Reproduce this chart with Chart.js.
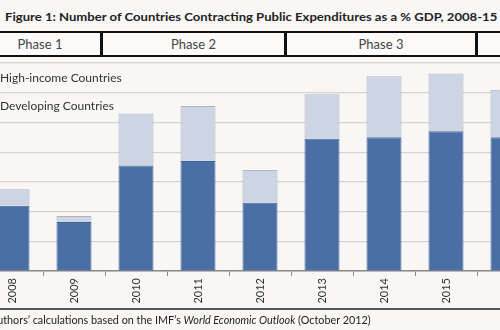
<!DOCTYPE html>
<html>
<head>
<meta charset="utf-8">
<script src="https://cdn.jsdelivr.net/npm/chart.js@4.4.0/dist/chart.umd.min.js"></script>
<style>
  body { margin: 0; width: 500px; height: 330px; overflow: hidden; background: #f8f7f5; position: relative; font-family: Lato, "Open Sans", sans-serif; color: #222; }
  #title { position: absolute; left: 5px; top: 9px; font-weight: bold; font-size: 12px; white-space: nowrap; transform-origin: 0 0; }
  .phase { position: absolute; top: 31px; height: 22px; border-top: 2px solid #111; border-bottom: 2px solid #111; font-size: 13px; color: #444; text-align: center; line-height: 22px; background: #fbfaf9; }
  .sep { position: absolute; top: 31px; height: 26px; width: 3px; background: #111; }
  #myChart { position: absolute; left: -80px; top: 0; }
  #rule { position: absolute; left: 0; width: 500px; top: 308px; border-top: 2px solid #555; }
  #source { position: absolute; right: 129px; top: 312px; font-size: 12px; white-space: nowrap; color: #222; transform: scaleX(0.9); transform-origin: 100% 0; }
</style>
</head>
<body>
<div id="title">Figure 1: Number of Countries Contracting Public Expenditures as a % GDP, 2008-15</div>

<div class="phase" style="left:-20px; width:120px;">Phase 1</div>
<div class="phase" style="left:103px; width:181px;">Phase 2</div>
<div class="phase" style="left:287px; width:188px;">Phase 3</div>
<div class="phase" style="left:478px; width:120px;">Phase 4</div>
<div class="sep" style="left:100px;"></div>
<div class="sep" style="left:284px;"></div>
<div class="sep" style="left:475px;"></div>

<canvas id="myChart" width="627" height="330"></canvas>

<div id="rule"></div>
<div id="source">Source: Authors’ calculations based on the IMF’s <i>World Economic Outlook</i> (October 2012)</div>

<script>
// Countries cutting spending (% of GDP), split by income group
const years = ['2008', '2009', '2010', '2011', '2012', '2013', '2014', '2015', '2016'];
const developing = [44, 33, 71, 74, 46, 89, 90, 94, 90];
const highIncome = [11, 4, 35, 37, 22, 30, 41, 39, 32];
const yMax = 140;
const yStep = 20;

const FONT = 'Lato, "Open Sans", sans-serif';

// squeeze the title onto one line across the page
const title = document.getElementById('title');
title.style.transform = `scaleX(${492 / title.scrollWidth})`;

// legend drawn inside the plot, top left
const insideLegend = {
    id: 'insideLegend',
    afterDraw(chart) {
        const ctx = chart.ctx;
        const area = chart.chartArea;
        ctx.save();
        ctx.font = `12px ${FONT}`;
        ctx.textBaseline = 'middle';
        [1, 0].forEach((di, row) => {
            const ds = chart.data.datasets[di];
            const y = area.top + 15 + row * 28;
            ctx.fillStyle = ds.backgroundColor;
            ctx.fillRect(area.left + 4, y - 5, 10, 10);
            ctx.fillStyle = '#333';
            ctx.fillText(ds.label, area.left + 19, y);
        });
        ctx.restore();
    }
};

const ctx = document.getElementById('myChart').getContext('2d');
new Chart(ctx, {
    type: 'bar',
    data: {
        labels: years,
        datasets: [{
            label: 'Developing Countries',
            data: developing,
            backgroundColor: '#4a6fa5',
            borderColor: '#41649a',
            borderWidth: 1
        }, {
            label: 'High-income Countries',
            data: highIncome,
            backgroundColor: '#cdd4e3',
            borderColor: '#aeb3bd',
            borderWidth: 1
        }]
    },
    options: {
        responsive: false,
        devicePixelRatio: 1,
        animation: false,
        layout: { padding: { top: 63, bottom: 22, left: 0, right: 8 } },
        datasets: { bar: { barPercentage: 0.565, categoryPercentage: 1 } },
        plugins: { legend: { display: false }, tooltip: { enabled: false } },
        scales: {
            x: {
                stacked: true,
                grid: { offset: true, drawOnChartArea: false, drawTicks: true, tickLength: 5, color: '#8a8a8a' },
                border: { color: '#8a8a8a', width: 1.5 },
                ticks: { minRotation: 90, maxRotation: 90, padding: 2, color: '#333', font: { family: FONT, size: 11 } },
                afterFit: scale => { scale.height = 37; }
            },
            y: {
                stacked: true,
                min: 0,
                max: yMax,
                ticks: { stepSize: yStep, color: '#333', font: { family: FONT, size: 11 } },
                grid: { color: '#d6d2ce', lineWidth: 1.2, drawTicks: false },
                border: { display: false },
                afterFit: scale => { scale.width = 61; }
            }
        }
    },
    plugins: [insideLegend]
});
</script>
</body>
</html>
